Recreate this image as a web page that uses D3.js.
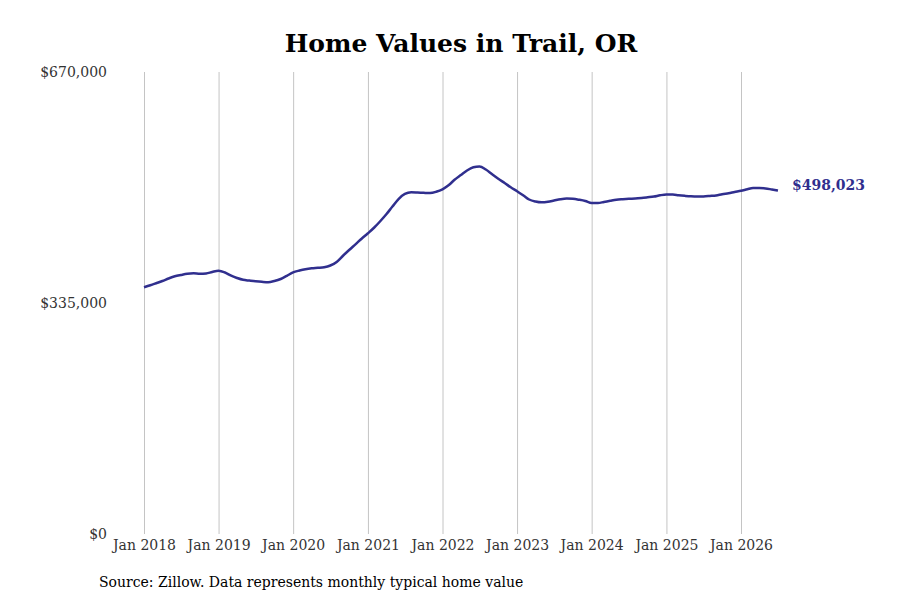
<!DOCTYPE html>
<html>
<head>
<meta charset="utf-8">
<script src="https://d3js.org/d3.v7.min.js"></script>
<style>
  body { margin: 0; background: #fff; }
  svg text { font-family: "DejaVu Serif", serif; }
</style>
</head>
<body>
<svg width="900" height="600"></svg>
<script>
// monthly typical home value, Jan 2018 .. Jul 2026
var startMonth = "2018-01";
var values = [
  357800, 360700, 363600, 366900, 370500, 373700, 375600, 377300, 378000, 377300, 377800, 380000,
  381700, 379200, 374900, 371300, 368600, 367500, 366500, 365700, 365200, 366900, 369800, 374400,
  379500, 382100, 384000, 385300, 386000, 386900, 389400, 394500, 403500, 411900, 420100, 428200,
  436100, 444500, 453200, 463600, 474900, 486100, 493100, 495500, 495200, 494800, 494500, 496300,
  499900, 506100, 513700, 520600, 527200, 531800, 533000, 528600, 521600, 515100, 509000, 502800,
  497100, 490900, 485100, 482200, 481000, 481800, 483600, 485500, 486500, 486100, 484700, 482900,
  480000, 480000, 481500, 483200, 484700, 485500, 486100, 486500, 487300, 488300, 489400, 491200,
  492300, 492300, 491300, 490400, 489700, 489400, 489600, 490200, 490900, 492800, 494200, 496000,
  497700, 500000, 501800, 501800, 501200, 499600, 498023
];
var yTicks = [0, 335000, 670000];
var xTickYears = [2018, 2019, 2020, 2021, 2022, 2023, 2024, 2025, 2026];

var svg = d3.select("svg"),
    margin = { top: 72, left: 144, bottom: 66 },
    height = +svg.attr("height") - margin.top - margin.bottom;

var parseMonth = d3.timeParse("%Y-%m");
var t0 = parseMonth(startMonth);
var data = values.map(function(v, i) {
    return { date: d3.timeMonth.offset(t0, i), value: v };
});

var x = d3.scaleTime()
    .domain([t0, new Date(2026, 0, 1)])
    .range([margin.left, 741]);

var y = d3.scaleLinear()
    .domain([0, 670000])
    .range([margin.top + height, margin.top]);

// title
svg.append("text")
    .attr("x", 461)
    .attr("y", 52)
    .attr("text-anchor", "middle")
    .style("font-size", "25px")
    .style("font-weight", "bold")
    .style("fill", "#000")
    .text("Home Values in Trail, OR");

// vertical grid + x labels
var xTicks = xTickYears.map(function(yr) { return new Date(yr, 0, 1); });
var xAxis = svg.append("g")
    .attr("transform", "translate(0," + y(0) + ")")
    .call(d3.axisBottom(x)
        .tickValues(xTicks)
        .tickSize(-height)
        .tickPadding(6)
        .tickFormat(d3.timeFormat("Jan %Y")));
xAxis.select(".domain").remove();
xAxis.selectAll(".tick line").attr("stroke", "#c4c4c4");
xAxis.selectAll(".tick text")
    .style("font-size", "14px")
    .style("fill", "#333");

// y labels
var yAxis = svg.append("g")
    .attr("transform", "translate(107,0)")
    .call(d3.axisLeft(y)
        .tickValues(yTicks)
        .tickSize(0)
        .tickPadding(0)
        .tickFormat(function(d) { return "$" + d3.format(",")(d); }));
yAxis.select(".domain").remove();
yAxis.selectAll(".tick text")
    .style("font-size", "14px")
    .style("fill", "#333");

// line
var line = d3.line()
    .curve(d3.curveMonotoneX)
    .x(function(d) { return x(d.date); })
    .y(function(d) { return y(d.value); });

svg.append("path")
    .datum(data)
    .attr("fill", "none")
    .attr("stroke", "#302f8e")
    .attr("stroke-width", 2.5)
    .attr("stroke-linejoin", "round")
    .attr("d", line);

// end label
var last = data[data.length - 1];
svg.append("text")
    .attr("x", x(last.date) + 14)
    .attr("y", y(last.value) - 5)
    .attr("dy", "0.35em")
    .style("font-size", "14px")
    .style("font-weight", "bold")
    .style("fill", "#302f8e")
    .text("$" + d3.format(",")(last.value));

// source
svg.append("text")
    .attr("x", 99)
    .attr("y", 587)
    .style("font-size", "14px")
    .style("fill", "#000")
    .text("Source: Zillow. Data represents monthly typical home value");
</script>
</body>
</html>
